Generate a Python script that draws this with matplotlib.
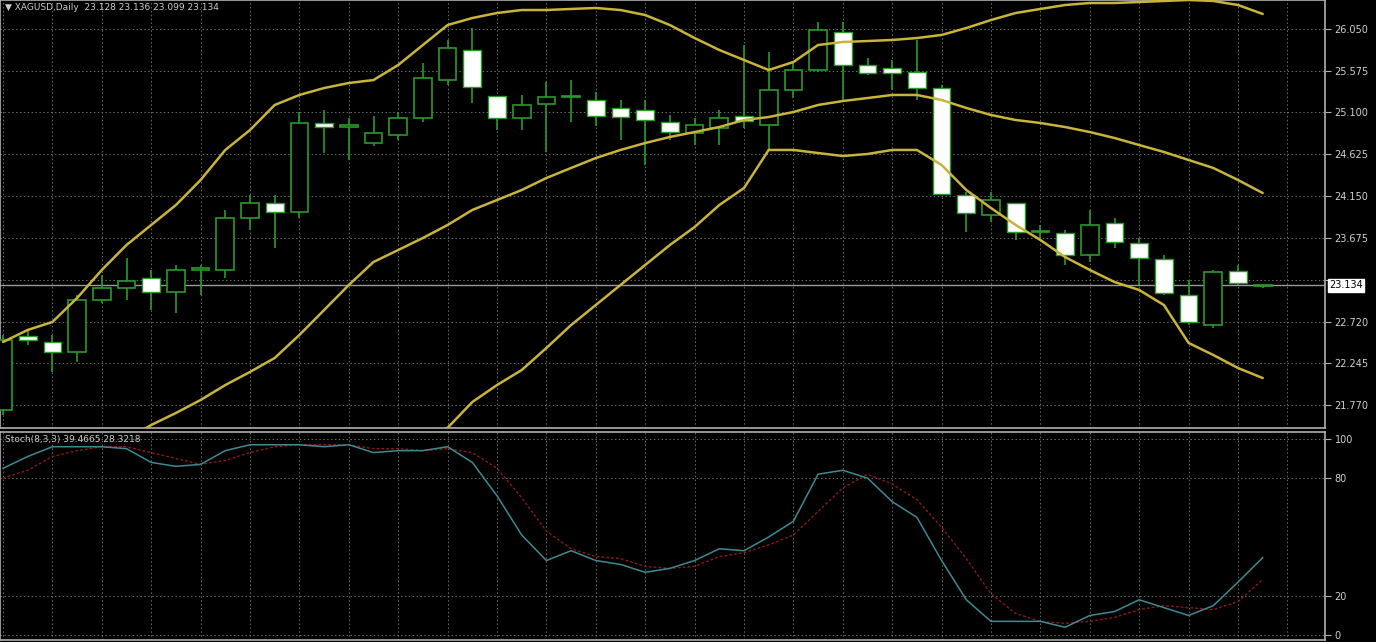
import numpy as np
import matplotlib
matplotlib.use("Agg")
import matplotlib.pyplot as plt
from matplotlib.patches import Rectangle

opens = [21.713,22.555,22.487,22.373,22.965,23.102,23.216,23.057,23.307,23.307,23.899,24.069,23.967,24.980,24.934,24.752,24.843,25.037,25.469,25.811,
         25.287,25.037,25.196,25.276,25.242,25.151,25.128,24.991,24.866,24.923,25.060,24.957,25.356,25.583,26.016,25.640,25.606,25.560,25.378,24.160,
         23.933,24.069,23.739,23.728,23.477,23.842,23.614,23.432,23.022,22.680,23.295,23.128]
highs = [22.567,22.624,22.567,23.022,23.250,23.443,23.307,23.364,23.364,23.990,24.160,24.160,25.105,25.128,25.037,25.060,25.105,25.663,25.925,26.061,
         25.287,25.299,25.447,25.469,25.333,25.242,25.242,25.071,25.037,25.128,25.868,25.788,25.674,26.130,26.130,25.720,25.697,25.925,25.412,24.194,
         24.194,24.069,23.819,23.762,23.990,23.899,23.671,23.477,23.193,23.307,23.364,23.136]
lows = [21.656,22.453,22.146,22.259,22.931,22.965,22.851,22.817,23.022,23.216,23.762,23.557,23.899,24.638,24.559,24.718,24.786,24.991,25.412,25.208,
        24.900,24.900,24.650,24.991,24.946,24.786,24.502,24.786,24.729,24.729,24.923,24.673,25.264,25.560,25.242,25.526,25.356,25.242,24.160,23.739,
        23.853,23.648,23.648,23.364,23.398,23.557,23.136,23.022,22.680,22.646,23.136,23.099]
closes = [22.510,22.510,22.373,22.965,23.102,23.181,23.057,23.307,23.329,23.899,24.069,23.967,24.980,24.934,24.957,24.866,25.037,25.492,25.834,25.390,
          25.037,25.185,25.276,25.287,25.060,25.048,25.014,24.877,24.957,25.037,25.003,25.356,25.583,26.039,25.640,25.549,25.549,25.378,24.172,23.955,
          24.103,23.739,23.751,23.477,23.819,23.625,23.443,23.045,22.715,23.284,23.159,23.134]
bb_upper = [22.487,22.624,22.715,22.988,23.307,23.591,23.819,24.046,24.331,24.673,24.900,25.185,25.299,25.378,25.435,25.469,25.640,25.868,26.095,26.175,
            26.232,26.266,26.266,26.278,26.289,26.266,26.209,26.095,25.947,25.811,25.697,25.583,25.674,25.868,25.902,25.913,25.925,25.947,25.982,26.061,
            26.152,26.232,26.278,26.323,26.346,26.346,26.357,26.369,26.380,26.369,26.323,26.221]
bb_middle = [20.60,20.75,20.90,21.05,21.20,21.38,21.542,21.679,21.827,21.997,22.146,22.305,22.567,22.851,23.136,23.398,23.534,23.671,23.819,23.990,
             24.103,24.217,24.354,24.468,24.581,24.673,24.752,24.821,24.877,24.934,25.014,25.048,25.105,25.185,25.230,25.264,25.299,25.299,25.242,25.151,
             25.071,25.014,24.980,24.934,24.877,24.809,24.729,24.650,24.559,24.468,24.331,24.183]
bb_lower = [np.nan]*16 + [21.05,21.28,21.51,21.804,21.997,22.168,22.419,22.680,22.908,23.136,23.364,23.591,23.796,24.046,24.240,24.673,24.673,24.638,
            24.604,24.627,24.673,24.673,24.502,24.217,24.012,23.819,23.648,23.454,23.307,23.170,23.079,22.908,22.476,22.339,22.191,22.077]
stoch_k = [85,91,96,96,96,95,88,86,87,94,97,97,97,96,97,93,94,94,96,88,71,51,38,43,38,36,32,34,38,44,43,50,58,82,84,80,68,60,38,18,
           7,7,7,4,10,12,18,14,10,15,27,39.4665]
stoch_d = [80,84,91,94,96,96,93,90,87,89,93,96,97,97,97,95,95,94,95,93,85,70,53,44,40,39,35,34,35,40,42,46,51,63,75,82,77,69,55,39,
           21,11,7,6,7,9,13,15,14,13,17,28.3218]
price_ticks = [26.050,25.575,25.100,24.625,24.150,23.675,23.195,22.720,22.245,21.770]
stoch_ticks = [100,80,20,0]
last_price = 23.134

W, H = 1376, 642
fig = plt.figure(figsize=(W/100, H/100), dpi=100, facecolor='black')
axw = 1325/W
ax = fig.add_axes([0, 1-428/H, axw, 428/H], facecolor='black')
ax2 = fig.add_axes([0, 2/H, axw, 208/H], facecolor='black')

green = '#2a9a2a'
grid_c = '#6e6e6e'
n = len(opens)
x = np.arange(n)
for i in range(n):
    o, h, l, c = opens[i], highs[i], lows[i], closes[i]
    ax.vlines(i, l, h, color=green, lw=1.2, zorder=2)
    bot, top = min(o, c), max(o, c)
    hgt = max(top-bot, 0.012)
    if c >= o:
        ax.add_patch(Rectangle((i-0.36, bot), 0.72, hgt, facecolor='black', edgecolor=green, lw=1.2, zorder=3))
    else:
        ax.add_patch(Rectangle((i-0.36, bot), 0.72, hgt, facecolor='white', edgecolor=green, lw=1.0, zorder=3))

band_c = '#c9b43a'
for b in (bb_upper, bb_middle, bb_lower):
    ax.plot(x, b, color=band_c, lw=1.8, zorder=4, solid_capstyle='round')

xl = (-3/24.7, 1322/24.7)
ylo = 26.38 - 0.011383*428
ax.set_xlim(*xl); ax.set_ylim(ylo, 26.38)
ax.axhline(last_price, color='#9a9a9a', lw=1, zorder=1)

for a in (ax, ax2):
    a.set_xticks(np.arange(0, 54, 2))
    a.tick_params(axis='x', length=0, labelbottom=False)
    a.grid(True, color=grid_c, ls=(0, (1.5, 2.5)), lw=0.7)
    a.set_axisbelow(True)
    for s in a.spines.values():
        s.set_color('#b0b0b0'); s.set_linewidth(1.2)
    a.yaxis.tick_right()
    a.tick_params(axis='y', colors='#d0d0d0', labelsize=7, length=4, color='#b0b0b0', pad=3)

ax.set_yticks(price_ticks)
ax.set_yticklabels(["" if abs(v-last_price) < 0.1 else f"{v:.3f}" for v in price_ticks])
ax.text(1.003, (last_price-ylo)/(26.38-ylo), f"{last_price:.3f}", transform=ax.transAxes,
        ha='left', va='center', fontsize=7, color='black',
        bbox=dict(boxstyle='square,pad=0.15', fc='white', ec='white'), zorder=10, clip_on=False)
ax.text(0.004, 0.993, "\u25bc XAGUSD,Daily  23.128 23.136 23.099 23.134", transform=ax.transAxes,
        ha='left', va='top', fontsize=6.5, color='#cccccc')

ax2.plot(x, stoch_k, color='#3f8a92', lw=1.1, zorder=4)
ax2.plot(x, stoch_d, color='#8b1a1a', lw=1.0, ls=(0, (2, 1.5)), zorder=3)
ax2.set_xlim(*xl); ax2.set_ylim(-2.5, 103.5)
ax2.set_yticks(stoch_ticks)
ax2.set_yticklabels([str(v) for v in stoch_ticks])
ax2.text(0.004, 0.985, "Stoch(8,3,3) 39.4665 28.3218", transform=ax2.transAxes,
         ha='left', va='top', fontsize=6.5, color='#cccccc')

fig.savefig("out.png", dpi=100, facecolor='black')
